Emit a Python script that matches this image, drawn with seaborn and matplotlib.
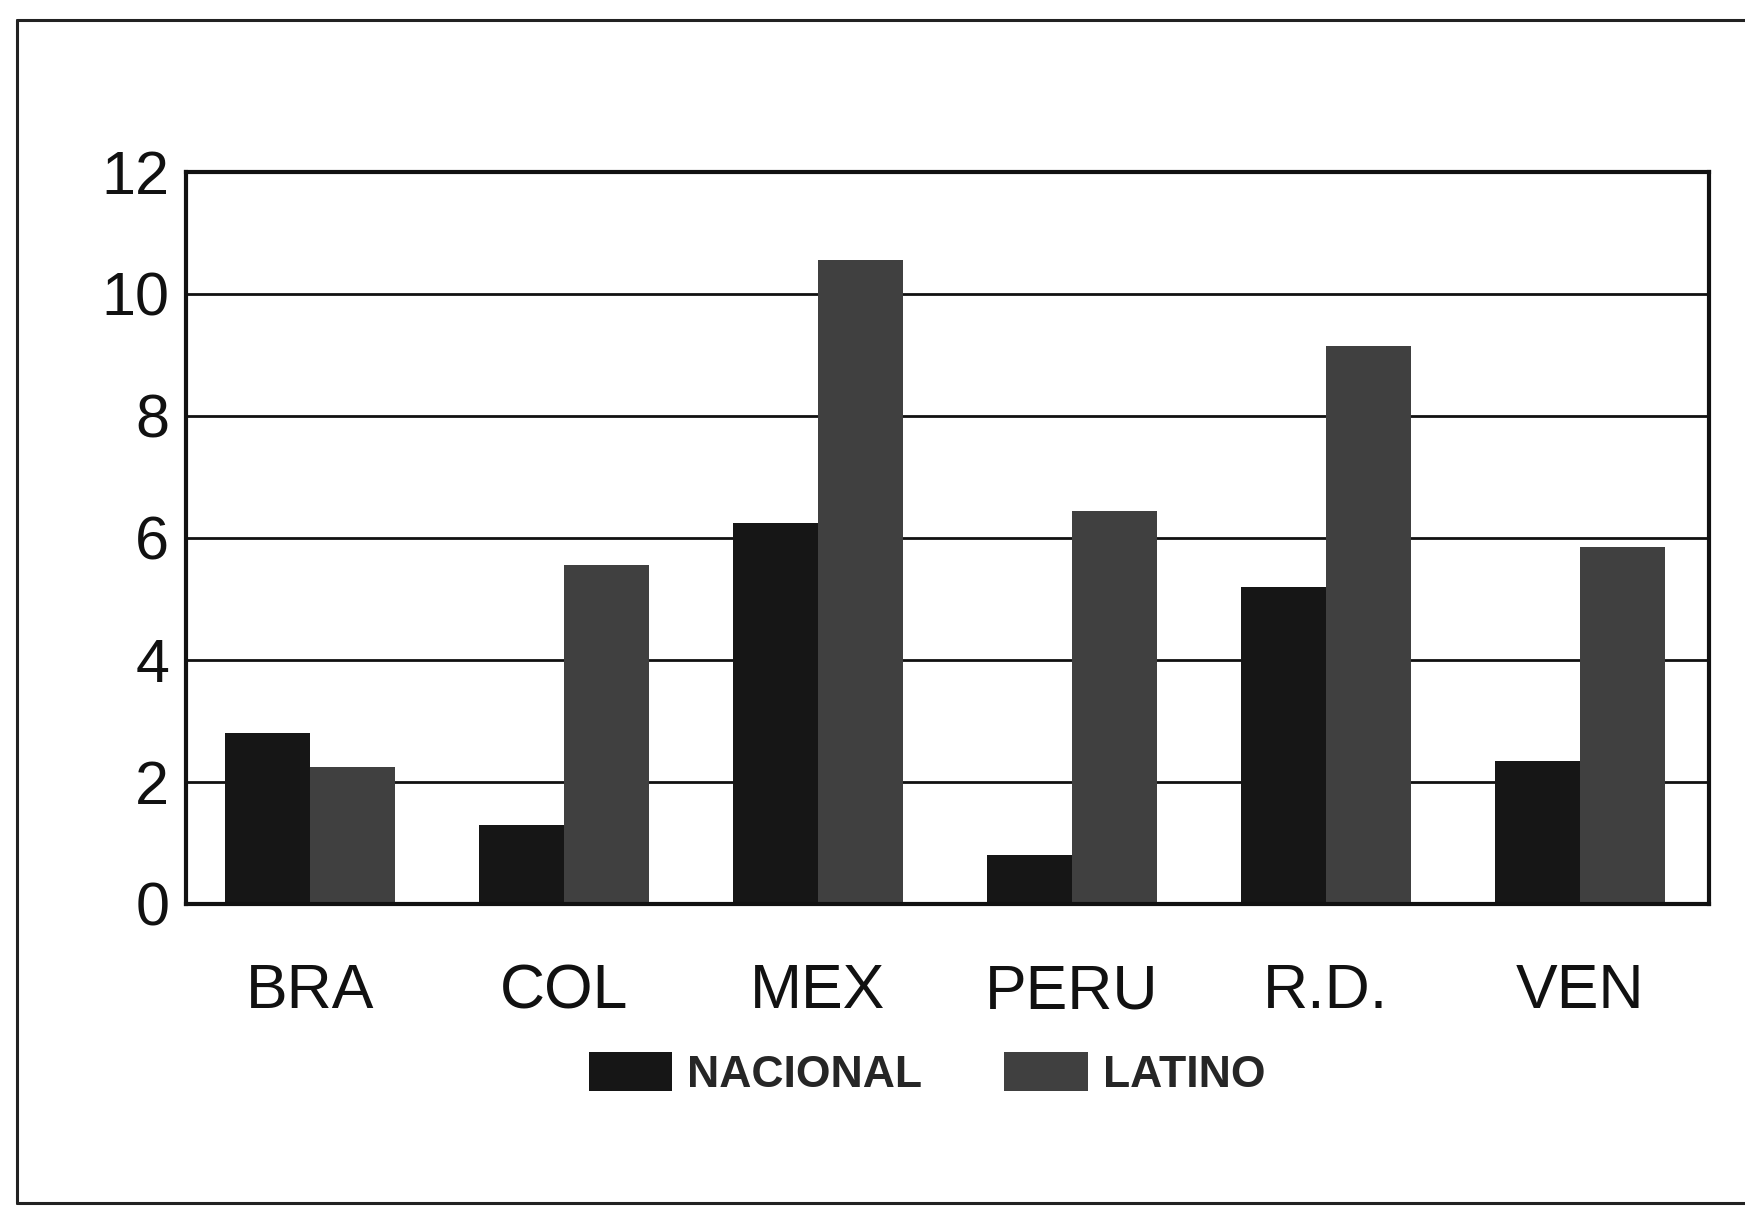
import pandas as pd
import matplotlib.pyplot as plt
from matplotlib.lines import Line2D
import seaborn as sns

# Data
countries = ["BRA", "COL", "MEX", "PERU", "R.D.", "VEN"]
nacional = [2.8, 1.3, 6.25, 0.8, 5.2, 2.35]
latino = [2.25, 5.55, 10.55, 6.45, 9.15, 5.85]
series = ["NACIONAL", "LATINO"]

df = pd.DataFrame({
    "pais": countries * 2,
    "valor": nacional + latino,
    "serie": [series[0]] * len(countries) + [series[1]] * len(countries),
})

sns.set_theme(style="white")
plt.rcParams["font.family"] = ["Liberation Sans", "DejaVu Sans"]

W, H = 1745, 1210
fig = plt.figure(figsize=(W / 100, H / 100), dpi=100)
ax = fig.add_axes([186 / W, 1 - 904 / H, 1523 / W, 732 / H])

ax.set_axisbelow(True)
ax.yaxis.grid(True, color="#111111", linewidth=2)
sns.barplot(data=df, x="pais", y="valor", hue="serie", palette=["#161616", "#404040"],
            width=0.67, saturation=1, edgecolor="none", linewidth=0, ax=ax, legend=True)

ax.set_ylim(0, 12)
ax.set_xlim(-0.49, 5.51)
ax.set_yticks(range(0, 13, 2))
ax.set_xlabel("")
ax.set_ylabel("")
ax.tick_params(axis="y", labelsize=44, pad=12, length=0, colors="#111111")
ax.tick_params(axis="x", labelsize=45, pad=42, length=0, colors="#111111")
for s in ax.spines.values():
    s.set_visible(True)
    s.set_color("#111111")
    s.set_linewidth(3)

handles, labels = ax.get_legend_handles_labels()
ax.get_legend().remove()
fig.legend(handles, labels, loc="center", bbox_to_anchor=(927 / W, 1 - 1074 / H),
           ncol=2, frameon=False, handlelength=1.88, handleheight=0.95,
           handletextpad=0.33, columnspacing=1.85,
           prop={"family": ["Liberation Sans Narrow", "Liberation Sans"], "weight": "bold", "size": 32})

# outer frame of the scanned figure
for xs, ys in [([17 / W, 17 / W], [1 - 20 / H, 1 - 1203 / H]),
               ([17 / W, 1.0], [1 - 20 / H, 1 - 20 / H]),
               ([17 / W, 1.0], [1 - 1203 / H, 1 - 1203 / H])]:
    fig.add_artist(Line2D(xs, ys, transform=fig.transFigure, color="#222222", linewidth=2.2))

fig.savefig("out.png", dpi=100, facecolor="white")
